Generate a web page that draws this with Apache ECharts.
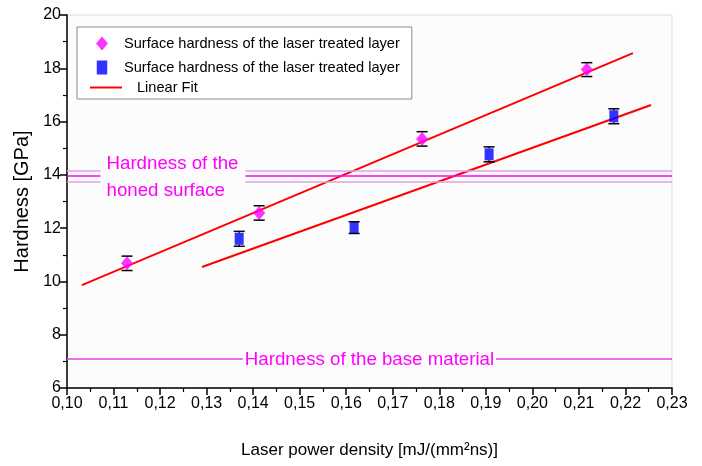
<!DOCTYPE html>
<html>
<head>
<meta charset="utf-8">
<script src="https://cdn.jsdelivr.net/npm/echarts@6/dist/echarts.min.js"></script>
<style>
html,body{margin:0;padding:0;background:#fff;}
#chart{width:702px;height:466px;}
</style>
</head>
<body>
<div id="chart"></div>
<script>
// ---- data ----
var diamondX = [0.1129, 0.1413, 0.1763, 0.2117];
var diamondY = [10.68, 12.57, 15.35, 17.95];
var diamondErr = [0.27, 0.27, 0.27, 0.26];

var squareX = [0.1370, 0.1617, 0.1907, 0.2175];
var squareY = [11.60, 12.02, 14.77, 16.20];
var squareErr = [0.28, 0.22, 0.28, 0.28];

var fit1X = [0.1032, 0.2216];
var fit1Y = [9.86, 18.57];
var fit2X = [0.1290, 0.2255];
var fit2Y = [10.54, 16.62];

var honedValue = 13.95;
var honedBand = 0.2;
var baseValue = 7.08;

var xTickMin = 0.10, xTickMax = 0.23, xTickStep = 0.01;
var yTickMin = 6, yTickMax = 20, yTickStep = 2;

var legendText = 'Surface hardness of the laser treated layer';
var fitText = 'Linear Fit';
var honedText = 'Hardness of the\nhoned surface';
var baseText = 'Hardness of the base material';
var xTitle = 'Laser power density [mJ/(mm²ns)]';
var yTitle = 'Hardness [GPa]';

// ---- build ----
function zip(xs, ys) { return xs.map(function (x, i) { return [x, ys[i]]; }); }
function zip3(xs, ys, es) { return xs.map(function (x, i) { return [x, ys[i], es[i]]; }); }

function makeErrorRender(markerHalf) {
  return function (params, api) {
    var x = api.value(0), y = api.value(1), e = api.value(2);
    var top = api.coord([x, y + e]);
    var bot = api.coord([x, y - e]);
    var mid = api.coord([x, y]);
    var hw = 5.5;
    var st = { stroke: '#000', lineWidth: 1.5 };
    var ch = [
      { type: 'line', shape: { x1: top[0] - hw, y1: top[1], x2: top[0] + hw, y2: top[1] }, style: st },
      { type: 'line', shape: { x1: bot[0] - hw, y1: bot[1], x2: bot[0] + hw, y2: bot[1] }, style: st }
    ];
    if (mid[1] - markerHalf > top[1]) {
      ch.push({ type: 'line', shape: { x1: top[0], y1: top[1], x2: top[0], y2: mid[1] - markerHalf }, style: st });
      ch.push({ type: 'line', shape: { x1: bot[0], y1: mid[1] + markerHalf, x2: bot[0], y2: bot[1] }, style: st });
    }
    return { type: 'group', children: ch };
  };
}

var font = 'Liberation Sans, Arial, sans-serif';
var magenta = '#ff00ff';
var bandColor = '#dfa3e6';
var plotBg = '#fcfcfc';

var chart = echarts.init(document.getElementById('chart'), null, { renderer: 'canvas' });

var option = {
  animation: false,
  backgroundColor: '#ffffff',
  textStyle: { fontFamily: font },
  grid: {
    left: 67, right: 30, top: 15, bottom: 78,
    show: true, backgroundColor: plotBg, borderColor: '#dcdcdc', borderWidth: 1
  },
  legend: [
    {
      orient: 'vertical',
      left: 77, top: 27,
      padding: [9, 12, 24, 19],
      itemGap: 9,
      itemWidth: 12,
      itemHeight: 14,
      borderColor: '#8c8c8c',
      borderWidth: 1,
      backgroundColor: '#ffffff',
      selectedMode: false,
      textStyle: { fontFamily: font, fontSize: 14.6, color: '#000', padding: [0, 0, 0, 11] },
      formatter: function () { return legendText; },
      data: [
        { name: 'diamonds', icon: 'diamond' },
        { name: 'squares', icon: 'path://M0,0H9V12H0Z' }
      ]
    },
    {
      orient: 'vertical',
      left: 90, top: 80,
      padding: 0,
      itemWidth: 32,
      itemHeight: 2,
      selectedMode: false,
      textStyle: { fontFamily: font, fontSize: 14.6, color: '#000', padding: [0, 0, 0, 10] },
      data: [{ name: fitText, icon: 'rect', itemStyle: { color: '#ff0000' } }]
    }
  ],
  xAxis: {
    type: 'value',
    min: xTickMin, max: xTickMax, interval: xTickStep,
    name: xTitle,
    nameLocation: 'middle',
    nameGap: 54,
    nameTextStyle: { fontFamily: font, fontSize: 17, color: '#000' },
    axisLine: { onZero: false, lineStyle: { color: '#000', width: 1.5 } },
    axisTick: { show: true, inside: false, length: 7, lineStyle: { color: '#000', width: 1.5 } },
    minorTick: { show: true, splitNumber: 2, length: 4, lineStyle: { color: '#000', width: 1.2 } },
    splitLine: { show: false },
    axisLabel: {
      margin: 8, fontFamily: font, fontSize: 16, color: '#000',
      formatter: function (v) { return v.toFixed(2).replace('.', ','); }
    }
  },
  yAxis: {
    type: 'value',
    min: yTickMin, max: yTickMax, interval: yTickStep,
    name: yTitle,
    nameLocation: 'middle',
    nameGap: 33,
    nameTextStyle: { fontFamily: font, fontSize: 20, color: '#000' },
    axisLine: { show: true, onZero: false, lineStyle: { color: '#000', width: 1.5 } },
    axisTick: { show: true, inside: false, length: 7, lineStyle: { color: '#000', width: 1.5 } },
    minorTick: { show: true, splitNumber: 2, length: 4, lineStyle: { color: '#000', width: 1.2 } },
    splitLine: { show: false },
    axisLabel: { margin: 6, fontFamily: font, fontSize: 16, color: '#000' }
  },
  series: [
    {
      type: 'line',
      name: 'levels',
      data: [],
      silent: true,
      markLine: {
        symbol: 'none',
        silent: true,
        animation: false,
        data: [
          { yAxis: honedValue + honedBand, lineStyle: { color: bandColor, width: 1.5, type: 'solid' }, label: { show: false } },
          { yAxis: honedValue - honedBand, lineStyle: { color: bandColor, width: 1.5, type: 'solid' }, label: { show: false } },
          { yAxis: honedValue, lineStyle: { color: magenta, width: 1.5, type: 'solid' }, label: { show: false } },
          {
            yAxis: baseValue,
            lineStyle: { color: '#e040e0', width: 1.5, type: 'solid' },
            label: {
              show: true, position: 'middle', formatter: baseText,
              fontFamily: font, fontSize: 18.7, color: magenta,
              backgroundColor: plotBg, padding: [0, 2, 0, 2], distance: -10
            }
          }
        ]
      },
      markPoint: {
        silent: true,
        animation: false,
        symbol: 'circle',
        symbolSize: 1,
        itemStyle: { color: 'rgba(0,0,0,0)' },
        data: [{
          coord: [xTickMin, honedValue],
          label: {
            show: true, position: 'right', distance: 0, offset: [33, 1],
            formatter: honedText,
            fontFamily: font, fontSize: 18.7, lineHeight: 27, color: magenta,
            backgroundColor: plotBg, padding: [2, 7, 0, 6]
          }
        }]
      },
      z: 2
    },
    {
      type: 'line', name: fitText, data: zip(fit1X, fit1Y),
      symbol: 'none', lineStyle: { color: '#ff0000', width: 2 }, itemStyle: { color: '#ff0000' }, z: 3
    },
    {
      type: 'line', name: fitText, data: zip(fit2X, fit2Y),
      symbol: 'none', lineStyle: { color: '#ff0000', width: 2 }, itemStyle: { color: '#ff0000' }, z: 3
    },
    {
      type: 'scatter', name: 'diamonds', data: zip(diamondX, diamondY),
      symbol: 'diamond', symbolSize: [12, 14],
      itemStyle: { color: magenta }, z: 5
    },
    {
      type: 'scatter', name: 'squares', data: zip(squareX, squareY),
      symbol: 'rect', symbolSize: [9, 12],
      itemStyle: { color: '#0000ff' }, z: 5
    },
    {
      type: 'custom', name: 'errD', data: zip3(diamondX, diamondY, diamondErr),
      renderItem: makeErrorRender(7), z: 6, silent: true
    },
    {
      type: 'custom', name: 'errS', data: zip3(squareX, squareY, squareErr),
      renderItem: makeErrorRender(6), z: 6, silent: true
    }
  ]
};
chart.setOption(option);
</script>
</body>
</html>
